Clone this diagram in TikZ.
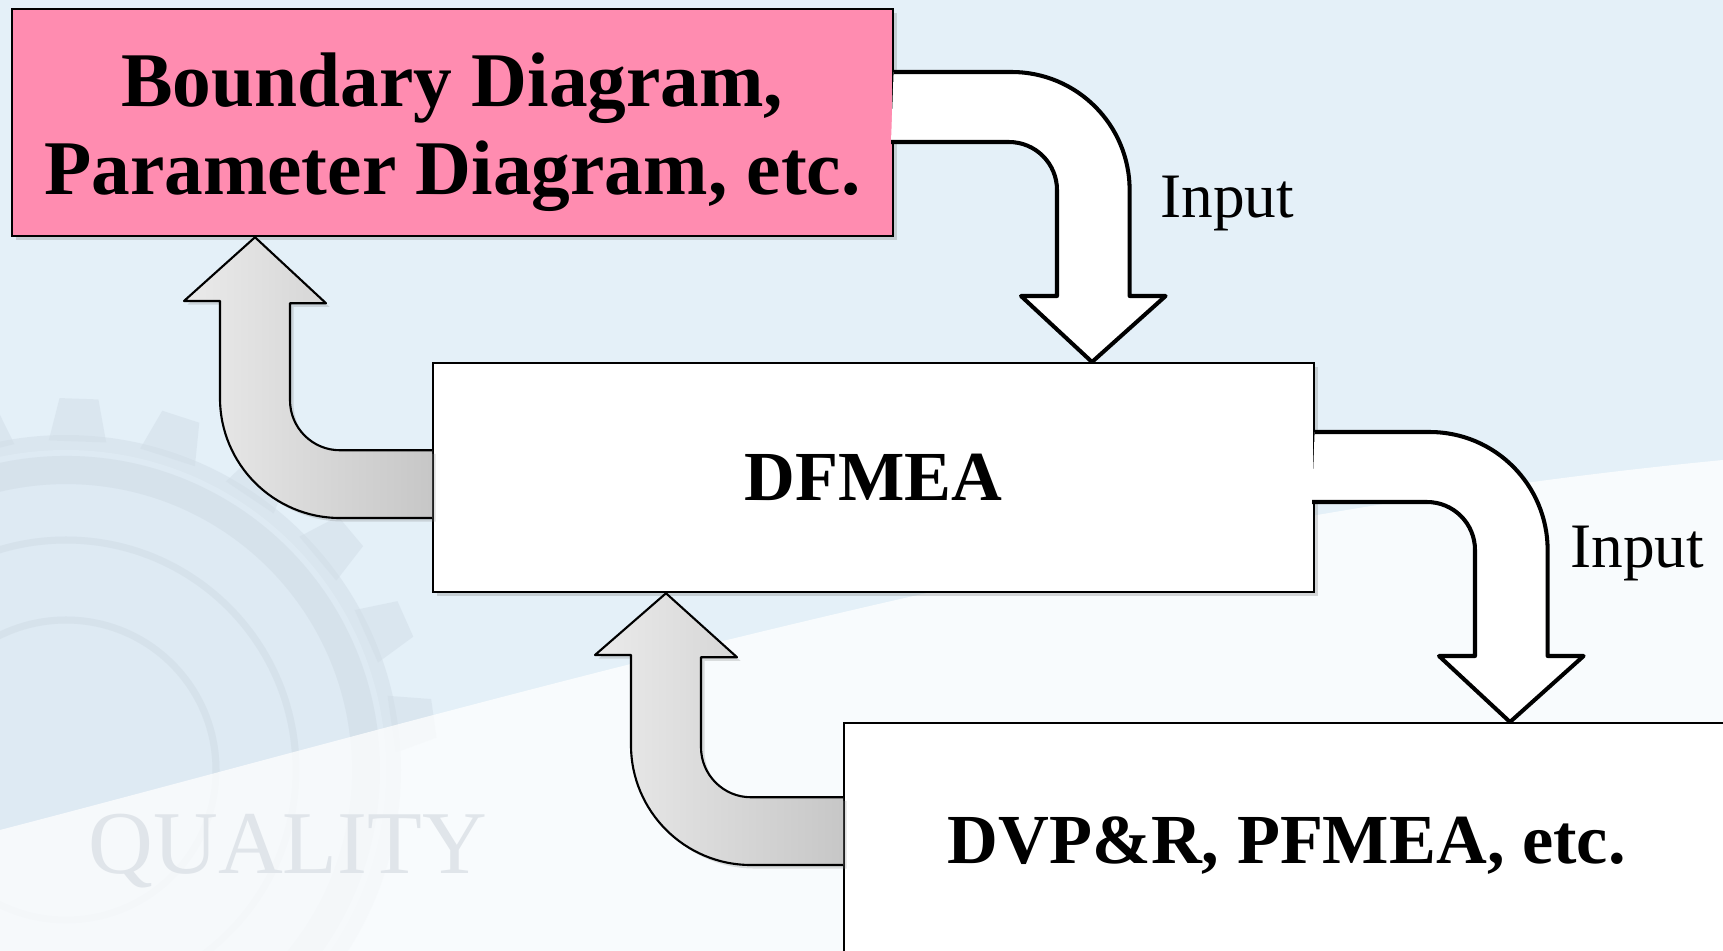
\documentclass[tikz,border=0pt]{standalone}
\usepackage{fontspec}
\setmainfont{Liberation Serif}
\usepackage{tikz}
\usetikzlibrary{calc, shadows}
\definecolor{stagepink}{RGB}{255,140,176}
\definecolor{bgblue}{RGB}{228,240,248}
\definecolor{gearline}{RGB}{208,220,230}
\definecolor{watermark}{RGB}{224,229,234}
\tikzset{
  stage box/.style={
    draw=black,
    line width=0.6pt,
    fill=white,
    anchor=north west,
    minimum width=8.8cm,
    minimum height=2.29cm,
    align=center,
    font=\fontsize{20}{25}\selectfont\bfseries,
    drop shadow={shadow xshift=1.2pt, shadow yshift=-1.2pt, opacity=0.3}
  },
  input arrow/.style={
    draw=black,
    fill=white,
    line width=1.15pt,
    line join=round
  },
  feedback arrow/.style={
    draw=black,
    line width=0.6pt,
    line join=round,
    left color=black!8,
    right color=black!22,
    drop shadow={shadow xshift=1pt, shadow yshift=-1pt, opacity=0.25}
  },
  input label/.style={
    anchor=base west,
    inner sep=0pt,
    font=\fontsize{18}{20}\selectfont
  }
}

\begin{document}
\begin{tikzpicture}[x=0.01cm, y=-0.01cm]
  %% ---- background ----
  \clip (0,0) rectangle (1723,951);
  \fill[bgblue] (0,0) rectangle (1723,951);
  \begin{scope}[opacity=0.45]
    \coordinate (gc) at (66,770);
    \draw[gearline, line width=2pt] (gc) circle[radius=150];
    \draw[gearline, line width=2pt] (gc) circle[radius=230];
    \draw[gearline, line width=8pt] (gc) circle[radius=300];
    \fill[gearline] (gc) circle[radius=335];
    \fill[bgblue] (gc) circle[radius=320];
    \foreach \a in {-104,-88,...,-8} {
      \fill[gearline] ($(gc)+(\a-5:330)$) -- ($(gc)+(\a-3:372)$)
        -- ($(gc)+(\a+3:372)$) -- ($(gc)+(\a+5:330)$) -- cycle;
    }
    \draw[gearline, line width=2pt] (gc) circle[radius=150];
    \draw[gearline, line width=2pt] (gc) circle[radius=230];
    \draw[gearline, line width=8pt] (gc) circle[radius=300];
  \end{scope}
  \fill[white, opacity=0.75] (0,830) .. controls (500,700) and (1100,520) .. (1723,460)
    -- (1723,951) -- (0,951) -- cycle;
  \node[watermark, anchor=base west, inner sep=0pt, font=\fontsize{25.5}{26}\selectfont] (wm) at (88,873) {QUALITY};

  %% ---- stages ----
  \node[stage box, fill=stagepink, minimum height=2.27cm, font=\fontsize{22}{25}\selectfont\bfseries] (bd) at (11,8)
    {\rule{0pt}{20.6pt}Boundary Diagram,\\Parameter Diagram, etc.};
  \node[stage box] (dfmea) at (432,362) {DFMEA};
  \node[stage box, minimum width=8.85cm, minimum height=2.45cm] (dvp) at (843,722) {DVP\&R, PFMEA, etc.};

  %% ---- input arrows ----
  \draw[input arrow] ($(bd.north east)+(0,64)$) -- ++(118,0)
    arc[start angle=-90, end angle=0, radius=118] -- ++(0,106) -- ++(36,0)
    -- ($(dfmea.north west)+(660,0)$) -- ++(-71,-66) -- ++(36,0) -- ++(0,-106)
    arc[start angle=0, end angle=-90, radius=48] -- ++(-118,0);
  \draw[input arrow] ($(dfmea.north east)+(0,70)$) -- ++(115,0)
    arc[start angle=-90, end angle=0, radius=118] -- ++(0,106) -- ++(36,0)
    -- ($(dvp.north west)+(667,0)$) -- ++(-71,-66) -- ++(36,0) -- ++(0,-106)
    arc[start angle=0, end angle=-90, radius=48] -- ++(-115,0);
  \node[input label] (in1) at ($(bd.north east)+(266,209)$) {Input};
  \node[input label] (in2) at ($(dfmea.north east)+(255,205)$) {Input};

  %% ---- feedback arrows ----
  \draw[feedback arrow] ($(dfmea.north west)+(0,156)$) -- ++(-92,0)
    arc[start angle=90, end angle=180, radius=120] -- ++(0,-97) -- ++(-36,0)
    -- ($(bd.south west)+(244,0)$) -- ++(71,66) -- ++(-36,0) -- ++(0,97)
    arc[start angle=180, end angle=90, radius=50] -- ++(92,0);
  \draw[feedback arrow] ($(dvp.north west)+(0,143)$) -- ++(-92,0)
    arc[start angle=90, end angle=180, radius=120] -- ++(0,-90) -- ++(-36,0)
    -- ($(dfmea.south west)+(234,0)$) -- ++(71,64) -- ++(-36,0) -- ++(0,90)
    arc[start angle=180, end angle=90, radius=50] -- ++(92,0);

\end{tikzpicture}
\end{document}
